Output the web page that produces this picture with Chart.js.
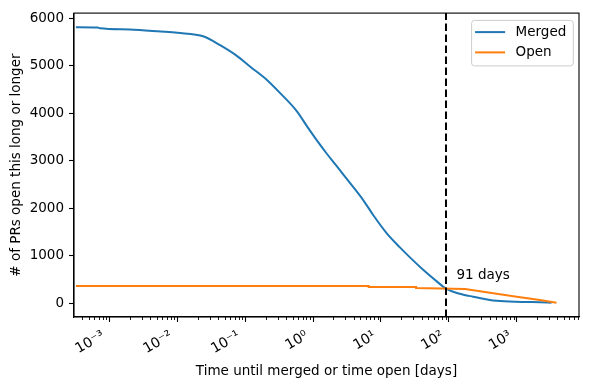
<!DOCTYPE html>
<html>
<head>
<meta charset="utf-8">
<script src="https://cdn.jsdelivr.net/npm/chart.js@4/dist/chart.umd.min.js"></script>
<style>
html,body{margin:0;padding:0;background:#fff;}
#wrap{width:590px;height:389px;}
</style>
</head>
<body>
<div id="wrap"><canvas id="c" width="590" height="389"></canvas></div>
<script>
// ---- data ----
const mergedDays   = [3.2e-4, 6.7e-4, 7.2e-4, 2e-3, 5.7e-3, 0.01, 0.0246, 0.0433, 0.0762, 0.12, 0.211, 0.331, 0.582, 0.816, 1.145, 1.607, 2.25, 3.16, 5.55, 7.78, 12.2, 19.2, 27, 42.3, 66.6, 91, 140, 228, 508, 1200, 2200, 3270];
const mergedCounts = [5806, 5800, 5785, 5760, 5717, 5690, 5612, 5424, 5200, 4972, 4694, 4415, 4033, 3720, 3420, 3140, 2880, 2610, 2160, 1845, 1470, 1170, 960, 700, 460, 305, 205, 138, 50, 28, 20, 12];
const openDays     = [3.2e-4, 6.6, 6.6, 33, 33, 174, 405, 1000, 2200, 3870];
const openCounts   = [361, 361, 340, 340, 319, 298, 221, 138, 69, 10];
const seriesLabels = ['Merged', 'Open'];
const cutoffDays = 91;
const cutoffLabel = '91 days';
const cutoffLabelX = 130;
const cutoffLabelY = 500;
const xDecades = [-3, -2, -1, 0, 1, 2, 3];
const yTicks = [0, 1000, 2000, 3000, 4000, 5000, 6000];
const xMin = 3.12e-4, xMax = 8300;
const yMin = -290, yMax = 6105;

const toXY = (xs, ys) => xs.map((x, i) => ({x: x, y: ys[i]}));
const supMap = {'-':'\u207B','0':'\u2070','1':'\u00B9','2':'\u00B2','3':'\u00B3','4':'\u2074','5':'\u2075','6':'\u2076','7':'\u2077','8':'\u2078','9':'\u2079'};
const sup = n => String(n).split('').map(c => supMap[c]).join('');

const FAM = 'DejaVu Sans';
Chart.defaults.font.family = FAM;
Chart.defaults.font.size = 13.5;
Chart.defaults.color = '#000';

const decor = {
  id: 'decor',
  afterDraw(chart) {
    const ctx = chart.ctx, a = chart.chartArea;
    const xs = chart.scales.x, ys = chart.scales.y;
    ctx.save();
    ctx.strokeStyle = '#000'; ctx.lineWidth = 1.1;
    ctx.strokeRect(a.left, a.top, a.right - a.left, a.bottom - a.top);
    ctx.lineWidth = 0.9;
    for (let e = -4; e <= 4; e++) {
      for (let m = 2; m <= 9; m++) {
        const v = m * Math.pow(10, e);
        if (v < xMin || v > xMax) continue;
        const px = Math.round(xs.getPixelForValue(v)) + 0.5;
        ctx.beginPath(); ctx.moveTo(px, a.bottom); ctx.lineTo(px, a.bottom + 3); ctx.stroke();
      }
    }
    ctx.fillStyle = '#000';
    ctx.font = "13.5px '" + FAM + "'";
    ctx.textAlign = 'left'; ctx.textBaseline = 'alphabetic';
    ctx.fillText(cutoffLabel, xs.getPixelForValue(cutoffLabelX), ys.getPixelForValue(cutoffLabelY));
    const ds = chart.data.datasets.filter(d => seriesLabels.includes(d.label));
    let tw = 0;
    ds.forEach(d => tw = Math.max(tw, ctx.measureText(d.label).width));
    const bw = 44 + tw + 7, bh = 45.5;
    const bx = a.right - 5.7 - bw, by = a.top + 7.3;
    ctx.beginPath();
    if (ctx.roundRect) ctx.roundRect(bx, by, bw, bh, 3); else ctx.rect(bx, by, bw, bh);
    ctx.fillStyle = 'rgba(255,255,255,0.8)'; ctx.fill();
    ctx.strokeStyle = '#cccccc'; ctx.lineWidth = 1; ctx.stroke();
    ds.forEach((d, i) => {
      const ly = by + 11.7 + i * 20.3;
      ctx.strokeStyle = d.borderColor; ctx.lineWidth = 2;
      ctx.beginPath(); ctx.moveTo(bx + 3.5, ly); ctx.lineTo(bx + 33.5, ly); ctx.stroke();
      ctx.fillStyle = '#000'; ctx.textBaseline = 'middle';
      ctx.fillText(d.label, bx + 44, ly + 0.5);
    });
    ctx.restore();
  }
};

new Chart(document.getElementById('c'), {
  type: 'line',
  data: {
    datasets: [
      {label: seriesLabels[0], data: toXY(mergedDays, mergedCounts), borderColor: '#1f77b4', borderWidth: 2, pointRadius: 0, cubicInterpolationMode: 'monotone', order: 2},
      {label: seriesLabels[1], data: toXY(openDays, openCounts), borderColor: '#ff7f0e', borderWidth: 2, pointRadius: 0, tension: 0, order: 1},
      {label: 'cutoff', data: [{x: cutoffDays, y: yMin}, {x: cutoffDays, y: yMax}], borderColor: '#000', borderWidth: 2, borderDash: [7.5, 3.5], pointRadius: 0, order: 0}
    ]
  },
  options: {
    responsive: false,
    animation: false,
    layout: {padding: {top: 10, right: 11, left: 0, bottom: 0}},
    plugins: {legend: {display: false}, tooltip: {enabled: false}},
    scales: {
      x: {
        type: 'logarithmic',
        min: xMin, max: xMax,
        afterBuildTicks: s => { s.ticks = xDecades.map(e => ({value: Math.pow(10, e)})); },
        afterFit: s => { s.height = 72; },
        ticks: {
          autoSkip: false, minRotation: 30, maxRotation: 30, padding: 2, color: '#000',
          font: {family: FAM, size: 14},
          callback: v => '10' + sup(Math.round(Math.log10(v))) + '\u2002'
        },
        grid: {display: true, drawOnChartArea: false, drawTicks: true, tickLength: 5, tickColor: '#000', tickWidth: 1.1},
        border: {display: true, color: '#000', width: 1.1},
        title: {display: true, text: 'Time until merged or time open [days]', color: '#000', font: {family: FAM, size: 13.5}, padding: {top: 0, bottom: 9}}
      },
      y: {
        type: 'linear',
        min: yMin, max: yMax,
        afterBuildTicks: s => { s.ticks = yTicks.map(v => ({value: v})); },
        afterFit: s => { s.width = 74; },
        ticks: {includeBounds: false, padding: 5, color: '#000', font: {family: FAM, size: 13.5}, callback: v => String(v)},
        grid: {display: true, drawOnChartArea: false, drawTicks: true, tickLength: 5, tickColor: '#000', tickWidth: 1.1},
        border: {display: true, color: '#000', width: 1.1},
        title: {display: true, text: '# of PRs open this long or longer', color: '#000', font: {family: FAM, size: 13.5}, padding: {top: 8, bottom: 0}}
      }
    }
  },
  plugins: [decor]
});
</script>
</body>
</html>
